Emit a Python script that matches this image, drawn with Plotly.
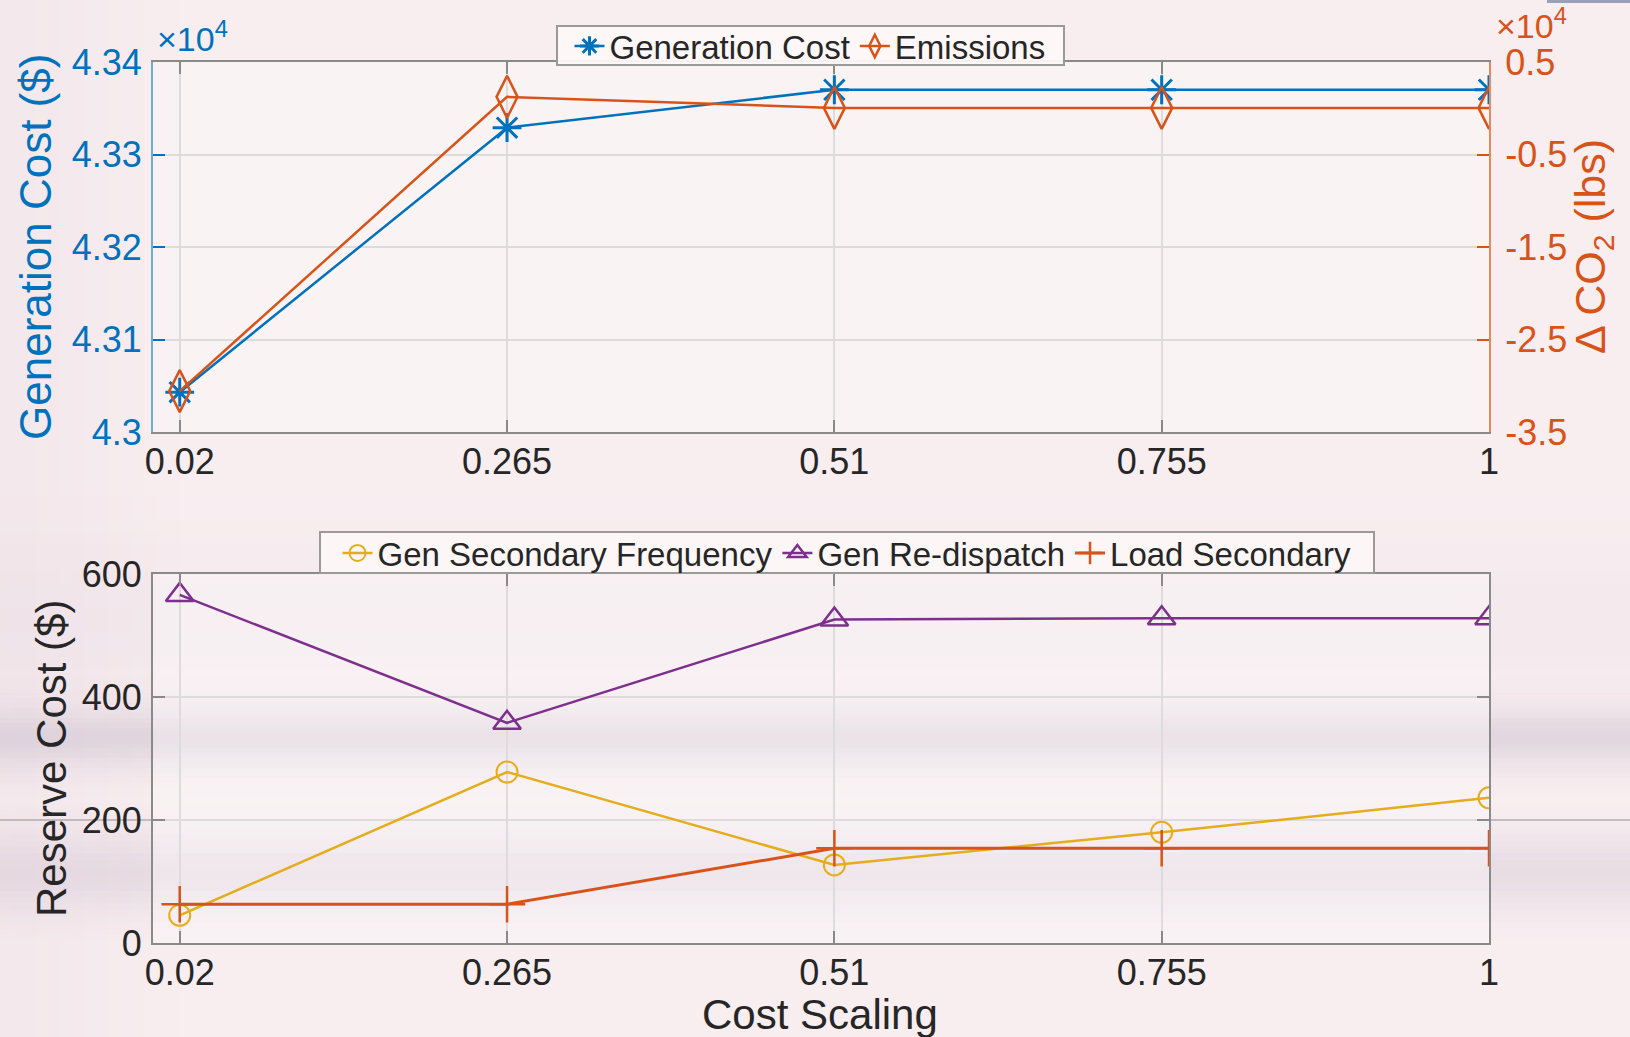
import numpy as np
import plotly.graph_objects as go

# ---- data -------------------------------------------------------------
cost_scaling = [0.02, 0.265, 0.51, 0.755, 1.0]
cost_scaling_labels = ["0.02", "0.265", "0.51", "0.755", "1"]

generation_cost = [43043, 43329, 43370, 43370, 43370]      # $
emissions_delta = [-30580, 1230, 40, 40, 40]                 # lbs CO2

gen_secondary_freq = [45, 278, 127, 180, 236]               # $
gen_redispatch = [566, 358, 526, 528, 528]                  # $
load_secondary = [63, 63, 154, 154, 154]                    # $

gen_cost_ticks = [43000, 43100, 43200, 43300, 43400]
gen_cost_ticklabels = ["4.3", "4.31", "4.32", "4.33", "4.34"]
co2_ticks = [-35000, -25000, -15000, -5000, 5000]
co2_ticklabels = ["-3.5", "-2.5", "-1.5", "-0.5", "0.5"]
reserve_ticks = [0, 200, 400, 600]

# ---- styling ----------------------------------------------------------
W, H = 1630, 1037
FONT = "Liberation Sans, Arial, Helvetica, sans-serif"
BLUE = "#0072BD"
ORANGE = "#D95319"
YELLOW = "#E5AC1C"
PURPLE = "#7E2F8E"
TXT = "#262626"
GRID = "#dcdcdc"
AX = "#8a8a8a"


def px(x):
    return x / W


def py(y):
    return 1 - y / H


top_dom_x = [px(153), px(1489)]
top_dom_y = [py(432), py(62)]
bot_dom_y = [py(943), py(574)]

fig = go.Figure()

fig.add_trace(go.Scatter(
    x=cost_scaling, y=generation_cost, name="Generation Cost",
    xaxis="x", yaxis="y", mode="lines+markers", legend="legend",
    line=dict(color=BLUE, width=2.5),
    marker=dict(symbol="asterisk-open", size=24, color=BLUE,
                line=dict(color=BLUE, width=3)),
))
fig.add_trace(go.Scatter(
    x=cost_scaling, y=emissions_delta, name="Emissions",
    xaxis="x", yaxis="y2", mode="lines+markers", legend="legend",
    line=dict(color=ORANGE, width=2.5),
    marker=dict(symbol="diamond-tall-open", size=30, color=ORANGE,
                line=dict(color=ORANGE, width=2.5)),
))

fig.add_trace(go.Scatter(
    x=cost_scaling, y=gen_secondary_freq, name="Gen Secondary Frequency",
    xaxis="x2", yaxis="y3", mode="lines+markers", legend="legend2",
    line=dict(color=YELLOW, width=2.5),
    marker=dict(symbol="circle-open", size=21, color=YELLOW,
                line=dict(color=YELLOW, width=2)),
))
fig.add_trace(go.Scatter(
    x=cost_scaling, y=gen_redispatch, name="Gen Re-dispatch",
    xaxis="x2", yaxis="y3", mode="lines+markers", legend="legend2",
    line=dict(color=PURPLE, width=2.5),
    marker=dict(symbol="triangle-up-open", size=24, color=PURPLE,
                line=dict(color=PURPLE, width=2.5)),
))
fig.add_trace(go.Scatter(
    x=cost_scaling, y=load_secondary, name="Load Secondary",
    xaxis="x2", yaxis="y3", mode="lines+markers", legend="legend2",
    line=dict(color=ORANGE, width=3),
    marker=dict(symbol="cross-thin-open", size=26, color=ORANGE,
                line=dict(color=ORANGE, width=2.5)),
))

# ---- background wash: soft lavender bands over a pink page -------------
shapes = []


def band(y_center, half, color, peak, steps=24):
    for i in range(steps):
        y0 = y_center - half + 2 * half * i / steps
        y1 = y_center - half + 2 * half * (i + 1) / steps
        t = (0.5 * (y0 + y1) - y_center) / half
        a = peak * np.exp(-4.0 * t * t)
        shapes.append(dict(type="rect", xref="paper", yref="paper",
                           x0=0, x1=1, y0=py(y1), y1=py(y0), layer="below",
                           line=dict(width=0),
                           fillcolor=f"rgba({color},{a:.3f})"))


band(738, 60, "150,140,165", 0.22)
band(872, 75, "165,145,180", 0.18)
band(620, 150, "195,175,205", 0.07)

# darker wash along the left edge
for i in range(16):
    x0 = i * 12
    a = 0.07 * (1 - i / 16)
    shapes.append(dict(type="rect", xref="paper", yref="paper",
                       x0=px(x0), x1=px(x0 + 12), y0=0, y1=1, layer="below",
                       line=dict(width=0), fillcolor=f"rgba(180,150,175,{a:.3f})"))

# lighter plot interiors
for dom in (top_dom_y, bot_dom_y):
    shapes.append(dict(type="rect", xref="paper", yref="paper",
                       x0=top_dom_x[0], x1=top_dom_x[1], y0=dom[0], y1=dom[1],
                       layer="below", line=dict(width=0),
                       fillcolor="rgba(255,255,255,0.30)"))

# thin rule running across the page at the 200 level
shapes.append(dict(type="line", xref="paper", yref="y3", x0=0, x1=1,
                   y0=200, y1=200, layer="below",
                   line=dict(color="#8f8f8f", width=1)))

# small bar at the top-right corner of the page
shapes.append(dict(type="rect", xref="paper", yref="paper",
                   x0=px(1547), x1=1, y0=py(3), y1=1, layer="below",
                   line=dict(width=0), fillcolor="#9aa0b8"))

# legend frames
for (x0, x1, y0, y1) in ((557, 1064, 26, 65), (320, 1374, 532, 573)):
    shapes.append(dict(type="rect", xref="paper", yref="paper",
                       x0=px(x0), x1=px(x1), y0=py(y1), y1=py(y0),
                       layer="above", line=dict(color="#9a9a9a", width=2),
                       fillcolor="rgba(253,247,247,0.95)"))

# ---- axes -------------------------------------------------------------
xcommon = dict(range=[0, 1], tickmode="array", tickvals=cost_scaling,
               ticktext=cost_scaling_labels, showgrid=True, gridcolor=GRID,
               gridwidth=2, showline=True, linecolor=AX, linewidth=2,
               mirror="ticks", ticks="inside", ticklen=12, tickwidth=2,
               tickcolor=AX, zeroline=False, automargin=False,
               ticklabelstandoff=-3,
               tickfont=dict(family=FONT, size=36, color=TXT))

fig.update_layout(
    width=W, height=H, autosize=False,
    margin=dict(l=0, r=0, t=0, b=0, pad=0, autoexpand=False),
    paper_bgcolor="#f8eef0",
    plot_bgcolor="rgba(0,0,0,0)",
    font=dict(family=FONT, color=TXT),
    shapes=shapes,
    xaxis=dict(domain=top_dom_x, anchor="y", **xcommon),
    yaxis=dict(domain=top_dom_y, anchor="x", range=[43000, 43400],
               tickmode="array", tickvals=gen_cost_ticks,
               ticktext=gen_cost_ticklabels, showgrid=True, gridcolor=GRID,
               gridwidth=2, showline=True, linecolor="#6fa9d6", linewidth=2,
               ticks="inside", ticklen=12, tickwidth=2, tickcolor=BLUE,
               zeroline=False, ticklabelstandoff=2, automargin=False,
               tickfont=dict(family=FONT, size=36, color=BLUE)),
    yaxis2=dict(overlaying="y", anchor="x", side="right",
                range=[-35000, 5000], tickmode="array", tickvals=co2_ticks,
                ticktext=co2_ticklabels, showgrid=False, showline=True,
                linecolor="#e48a62", linewidth=2, ticks="inside", ticklen=12,
                tickwidth=2, tickcolor=ORANGE, zeroline=False,
                ticklabelstandoff=7, automargin=False,
                tickfont=dict(family=FONT, size=36, color=ORANGE)),
    xaxis2=dict(domain=top_dom_x, anchor="y3", **xcommon),
    yaxis3=dict(domain=bot_dom_y, anchor="x2", range=[0, 600],
                tickmode="array", tickvals=reserve_ticks, showgrid=True,
                gridcolor=GRID, gridwidth=2, showline=True, linecolor=AX,
                linewidth=2, mirror="ticks", ticks="inside", ticklen=12,
                tickwidth=2, tickcolor=AX, zeroline=False,
                ticklabelstandoff=2, automargin=False,
                tickfont=dict(family=FONT, size=36, color=TXT)),
    legend=dict(orientation="h", x=px(810), xanchor="center", y=py(46),
                yanchor="middle", bgcolor="rgba(0,0,0,0)",
                borderwidth=0,
                font=dict(family=FONT, size=33, color=TXT),
                itemwidth=30, tracegroupgap=0),
    legend2=dict(orientation="h", x=px(847), xanchor="center", y=py(553),
                 yanchor="middle", bgcolor="rgba(0,0,0,0)",
                 borderwidth=0,
                 font=dict(family=FONT, size=33, color=TXT),
                 itemwidth=30, tracegroupgap=0),
    showlegend=True,
)

# ---- axis titles and exponent labels ----------------------------------
ann = [
    dict(text="Generation Cost ($)", x=px(36), y=py(247), textangle=-90,
         font=dict(size=44, color=BLUE)),
    dict(text="Δ CO<sub>2</sub> (lbs)", x=px(1593), y=py(247), textangle=-90,
         font=dict(size=43, color=ORANGE)),
    dict(text="Reserve Cost ($)", x=px(51), y=py(759), textangle=-90,
         font=dict(size=42, color=TXT)),
    dict(text="Cost Scaling", x=px(820), y=py(1014),
         font=dict(size=42, color=TXT)),
]
for a in ann:
    fig.add_annotation(xref="paper", yref="paper", showarrow=False,
                       xanchor="center", yanchor="middle",
                       font_family=FONT, **a)

fig.add_annotation(xref="paper", yref="paper", showarrow=False,
                   text="×10<sup>4</sup>", x=px(155), y=py(36),
                   xanchor="left", yanchor="middle",
                   font=dict(family=FONT, size=34, color=BLUE))
fig.add_annotation(xref="paper", yref="paper", showarrow=False,
                   text="×10<sup>4</sup>", x=px(1494), y=py(24),
                   xanchor="left", yanchor="middle",
                   font=dict(family=FONT, size=34, color=ORANGE))

fig.write_html("out.html")
